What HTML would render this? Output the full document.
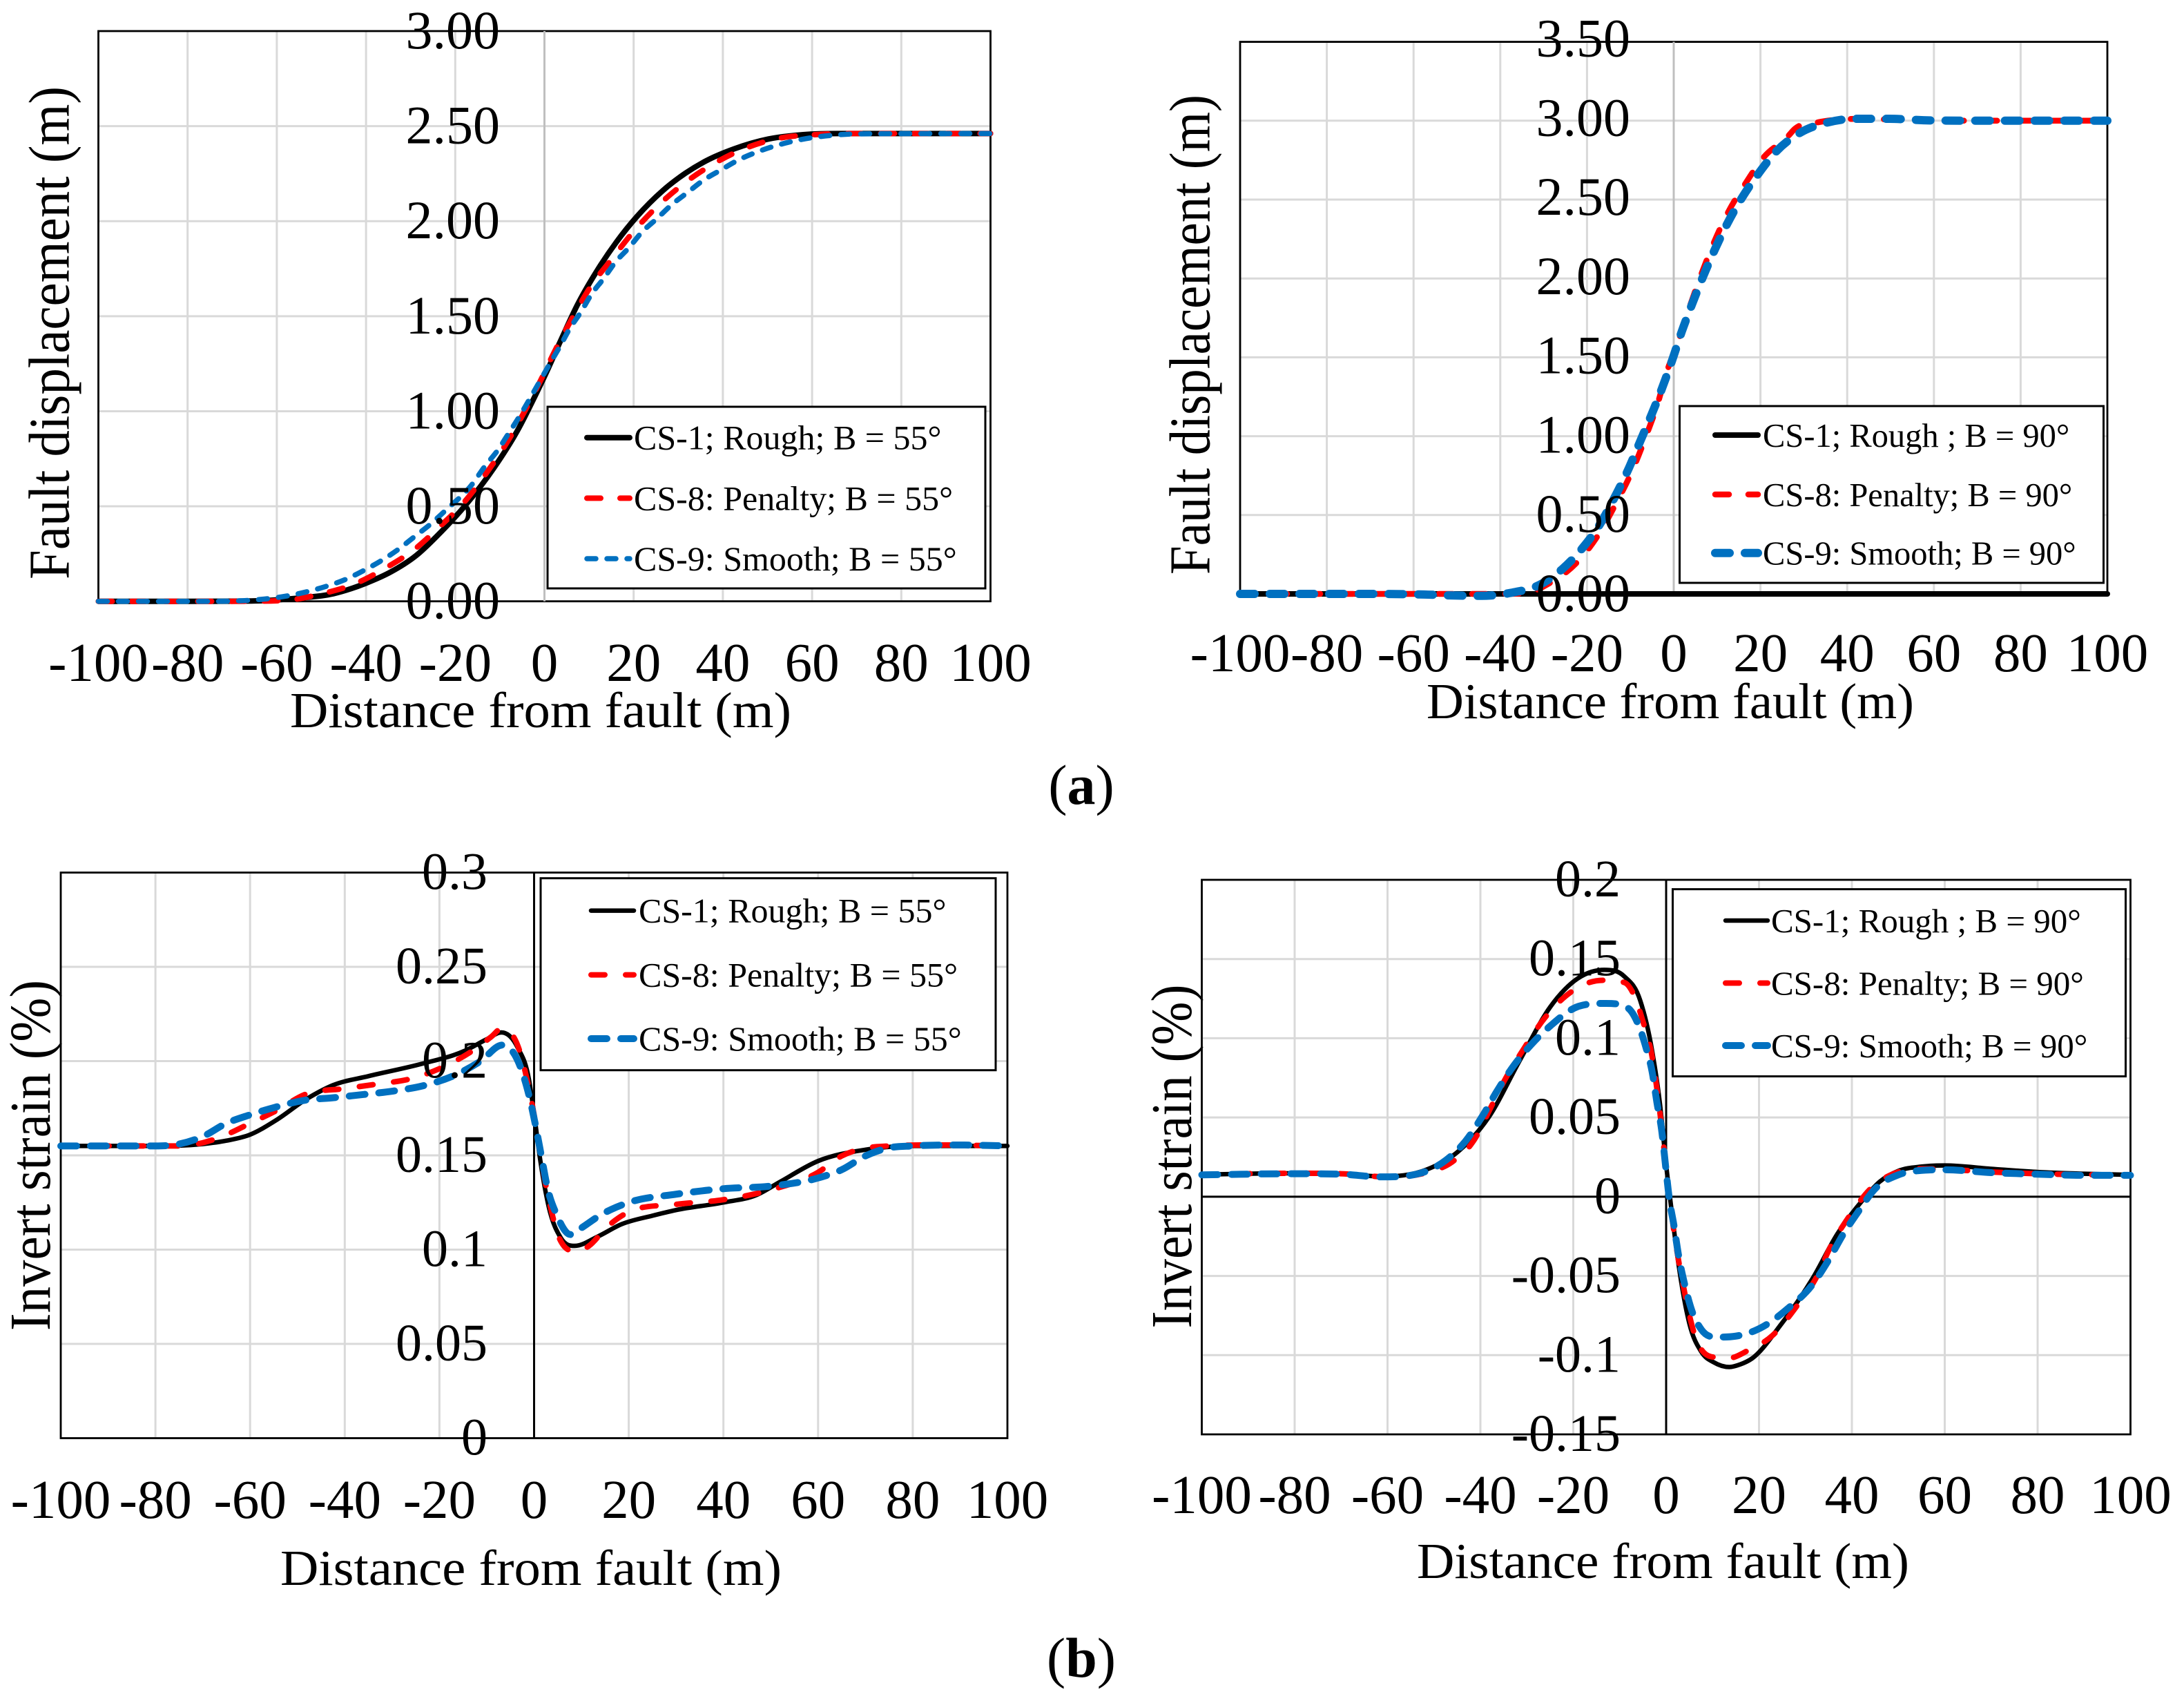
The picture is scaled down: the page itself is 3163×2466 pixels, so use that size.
<!DOCTYPE html>
<html lang="en">
<head>
<meta charset="utf-8">
<title>Fault displacement and invert strain charts</title>
<style>
html,body{margin:0;padding:0;background:#fff;}
svg{display:block;}
text{font-family:"Liberation Serif","Times New Roman",serif;fill:#000;}
</style>
</head>
<body>
<svg id="figure" xmlns="http://www.w3.org/2000/svg" width="3163" height="2466" viewBox="0 0 3163 2466">
<rect x="0" y="0" width="3163" height="2466" fill="#fff"/>
<text x="1566" y="1164" font-size="82" text-anchor="middle">(<tspan font-weight="bold">a</tspan>)</text>
<text x="1566" y="2428" font-size="82" text-anchor="middle">(<tspan font-weight="bold">b</tspan>)</text>
</svg>
<script>
// ---- shared tick labels ----
const distanceTicks = ["-100","-80","-60","-40","-20","0","20","40","60","80","100"];
const aLeftYTicks = ["0.00","0.50","1.00","1.50","2.00","2.50","3.00"];
const aRightYTicks = ["0.00","0.50","1.00","1.50","2.00","2.50","3.00","3.50"];
const bLeftYTicks = ["0","0.05","0.1","0.15","0.2","0.25","0.3"];
const bRightYTicks = ["-0.15","-0.1","-0.05","0","0.05","0.1","0.15","0.2"];

// ---- (a) left: fault displacement, B = 55 ----
const aLeftRoughX = [-100,-80,-65,-55.6,-47.3,-40.1,-34.4,-28.8,-23.1,-17.9,-11.2,-6,-1.9,0.15,3.8,7.4,12,16.2,20.8,26.5,31.6,36.3,42.5,50.2,58,65.7,80,100];
const aLeftRoughY = [0,0,0.002,0.016,0.04,0.0944,0.155,0.24,0.367,0.5,0.706,0.9,1.09,1.19,1.38,1.56,1.747,1.892,2.026,2.16,2.252,2.318,2.38,2.432,2.455,2.461,2.461,2.461];
const aLeftPenaltyX = [-100,-70,-58,-50.4,-42.7,-35.7,-29,-23.3,-17.9,-13,-8.6,-4.2,-0.9,2.2,6.3,10.2,15.1,20,25.4,31.4,38.1,45,52.8,60.6,70,100];
const aLeftPenaltyY = [0,0,0.005,0.037,0.09,0.174,0.276,0.397,0.524,0.675,0.828,1.01,1.16,1.311,1.493,1.65,1.801,1.946,2.08,2.2,2.304,2.383,2.437,2.455,2.461,2.461];
const aLeftSmoothX = [-100,-75,-62.3,-57.7,-53.3,-48.9,-44.8,-40.6,-36.5,-32.6,-29.3,-25.4,-22,-16.4,-13.3,-10.4,-8.1,-5.6,-3.2,-1.1,1.2,3.5,5.6,8.2,10.5,13.3,15.9,19,21.8,25.2,28.5,32.2,35.5,39.6,43.5,47.7,52,56.4,60.8,65.2,69.8,100];
const aLeftSmoothY = [0,0,0.013,0.028,0.05,0.079,0.113,0.161,0.215,0.276,0.337,0.409,0.482,0.61,0.712,0.797,0.881,0.973,1.069,1.155,1.25,1.342,1.432,1.523,1.614,1.699,1.784,1.862,1.941,2.013,2.086,2.153,2.213,2.27,2.322,2.364,2.398,2.424,2.442,2.453,2.459,2.461];

// ---- (a) right: fault displacement, B = 90 ----
const aRightRoughX = [-100,-50,0,50,100];
const aRightRoughY = [0,0,0,0,0];
const aRightPenaltyX = [-100,-60,-40,-33.6,-29.3,-21.9,-17.6,-13.4,-9.7,-5.9,-3.8,-1.7,0.7,3,6,8.9,12.6,16.1,20.9,26.2,28,33.3,37,43,60,100];
const aRightPenaltyY = [0,0,0,0.007,0.058,0.212,0.365,0.569,0.773,1.036,1.197,1.4,1.576,1.766,2,2.204,2.423,2.583,2.773,2.897,2.95,2.99,3.005,3.012,3,3];
const aRightSmoothX = [-100,-71,-57.5,-50.8,-44.2,-37.5,-30.9,-25.6,-20.8,-17.1,-13.9,-10.5,-7.8,-5.1,-2.76,-0.37,1.86,4.14,6.69,9.45,12.4,15.7,19.5,23.8,29.3,35.5,41.8,49.7,59,75,100];
const aRightSmoothY = [0,0,-0.004,-0.01,-0.012,0.007,0.058,0.16,0.299,0.438,0.598,0.788,0.963,1.138,1.299,1.481,1.664,1.831,2.007,2.182,2.35,2.51,2.663,2.81,2.926,2.989,3.012,3.012,3.002,3,3];

// ---- (b) left: invert strain, B = 55 ----
const bLeftRoughX = [-100,-80,-70,-65,-60,-54.6,-48,-42.5,-35,-23.5,-14.7,-10,-6.9,-3.5,-1.07,0,1.3,3.07,5.7,8.6,13.5,18.4,25,30,40,47,52,60,70,80,100];
const bLeftRoughY = [0.155,0.155,0.156,0.1578,0.161,0.1685,0.18,0.1872,0.192,0.1987,0.2054,0.2116,0.2152,0.2073,0.19,0.172,0.1475,0.123,0.106,0.102,0.107,0.1134,0.118,0.121,0.125,0.129,0.136,0.147,0.153,0.155,0.155];
const bLeftPenaltyX = [-100,-80,-75,-70,-65,-60,-55,-48,-40.5,-33.2,-25.8,-18.6,-13.3,-9,-6.9,-3,-1.3,0.15,1.85,3.3,5.3,9.15,11.5,15.5,20,30,40,50,60,65,70,75,85,100];
const bLeftPenaltyY = [0.155,0.155,0.155,0.1567,0.161,0.167,0.173,0.1827,0.1853,0.1878,0.1908,0.1976,0.205,0.213,0.2172,0.205,0.188,0.1695,0.1427,0.1245,0.1062,0.099,0.1018,0.1122,0.12,0.124,0.1265,0.1317,0.141,0.1497,0.1538,0.155,0.1555,0.155];
const bLeftSmoothX = [-100,-80,-75,-70,-65,-60,-55,-48.3,-42.7,-36,-29.8,-23,-16.6,-11.3,-6.7,-3,-1.07,0.4,1.6,2.8,4.8,7.7,10.1,14,20,30,40,50,60,65,70,75,80,90,100];
const bLeftSmoothY = [0.155,0.155,0.156,0.16,0.167,0.1715,0.1753,0.1793,0.1805,0.1823,0.1841,0.1872,0.1927,0.2,0.2085,0.1976,0.1817,0.1647,0.1488,0.133,0.1183,0.108,0.1117,0.1183,0.125,0.1294,0.1323,0.1337,0.138,0.1424,0.1497,0.154,0.155,0.1555,0.155];

// ---- (b) right: invert strain, B = 90 ----
const bRightRoughX = [-100,-80,-70,-61.4,-51.5,-44.8,-38.2,-31.5,-24.9,-18.9,-13.3,-9,-5.6,-3,-1.3,0,1,2.65,5,7.6,10.3,13.6,16,18.3,24.9,31.5,36.9,42.2,46,50,55,60,70,80,90,100];
const bRightRoughY = [0.014,0.0148,0.0145,0.0128,0.0172,0.0285,0.0502,0.0861,0.12,0.138,0.1432,0.139,0.124,0.0918,0.0578,0.02,-0.0045,-0.0423,-0.08,-0.098,-0.1046,-0.1075,-0.1058,-0.1025,-0.08,-0.0518,-0.0234,-0.0026,0.0095,0.0163,0.019,0.0197,0.0176,0.0156,0.0145,0.0138];
const bRightPenaltyX = [-100,-80,-70,-60,-51.5,-46.1,-41.5,-37.5,-34.9,-31,-26.2,-21.6,-13.6,-9,-7,-5,-3,-1.3,0,1.66,3.65,6,9.6,13.6,17.6,22.9,28.2,32.2,35.5,39.5,44,50,55,60,70,80,100];
const bRightPenaltyY = [0.014,0.0148,0.0145,0.0125,0.0153,0.0219,0.0351,0.0578,0.0729,0.0918,0.1126,0.1267,0.1366,0.1352,0.1277,0.1107,0.088,0.0521,0.018,-0.0215,-0.0555,-0.0858,-0.1009,-0.1018,-0.0971,-0.0876,-0.0688,-0.0518,-0.031,-0.0121,0.005,0.0156,0.0176,0.0173,0.0156,0.0145,0.0135];
const bRightSmoothX = [-100,-80,-70,-61.4,-53.5,-47.5,-43.2,-39.5,-36.5,-32.9,-28.9,-24.9,-18.9,-13,-8.3,-6.3,-4.3,-3,-2,-1,0,0.66,1.66,2.65,4,5.6,7.6,11,15,20.3,26.2,31.5,34.9,38.2,41.2,45,50,55,60,70,80,90,100];
const bRightSmoothY = [0.0138,0.0145,0.0142,0.0125,0.0144,0.0229,0.0351,0.0512,0.0663,0.0824,0.0965,0.1079,0.1201,0.122,0.1192,0.1107,0.0937,0.0786,0.0597,0.0427,0.0162,-0.0008,-0.0178,-0.0366,-0.0555,-0.0725,-0.0839,-0.0886,-0.088,-0.0829,-0.0706,-0.0555,-0.0404,-0.0234,-0.0102,0.005,0.0138,0.0166,0.017,0.0152,0.0142,0.0135,0.0135];

const SVGNS = "http://www.w3.org/2000/svg";
const figure = document.getElementById("figure");

function make(tag, parent, name, attrs) {
  const el = document.createElementNS(SVGNS, tag);
  
  
  for (const k in attrs) el.setAttribute(k, attrs[k]);
  parent.appendChild(el);
  return el;
}

function linearScale(d0, d1, r0, r1) {
  return function (v) { return r0 + (v - d0) * (r1 - r0) / (d1 - d0); };
}

// smooth cubic interpolation through the data points, limited so it cannot overshoot
function curvePath(xs, ys) {
  const n = xs.length;
  const dx = [], m = [];
  for (let i = 0; i < n - 1; i++) {
    dx.push(xs[i + 1] - xs[i]);
    m.push((ys[i + 1] - ys[i]) / dx[i]);
  }
  const t = [m[0]];
  for (let i = 1; i < n - 1; i++) {
    if (m[i - 1] * m[i] <= 0) { t.push(0); continue; }
    const p = (m[i - 1] * dx[i] + m[i] * dx[i - 1]) / (dx[i] + dx[i - 1]);
    const s = Math.min(3 * Math.abs(m[i - 1]), 3 * Math.abs(m[i]), Math.abs(p));
    t.push(Math.sign(p) * s);
  }
  t.push(m[n - 2]);
  let d = "M" + xs[0].toFixed(2) + " " + ys[0].toFixed(2);
  for (let i = 0; i < n - 1; i++) {
    const h = dx[i] / 3;
    d += "C" + (xs[i] + h).toFixed(2) + " " + (ys[i] + h * t[i]).toFixed(2) + " " +
         (xs[i + 1] - h).toFixed(2) + " " + (ys[i + 1] - h * t[i + 1]).toFixed(2) + " " +
         xs[i + 1].toFixed(2) + " " + ys[i + 1].toFixed(2);
  }
  return d;
}

function drawChart(c) {
  const g = make("g", figure, c.id, {});
  const x = linearScale(-100, 100, c.left, c.right);
  const y = linearScale(c.yMin, c.yMax, c.bottom, c.top);

  // gridlines
  const grid = make("g", g, c.id + "-gridlines", {stroke: "#d9d9d9", "stroke-width": 3});
  distanceTicks.forEach(function (t) {
    const px = x(parseFloat(t));
    make("line", grid, "vertical-gridline", {x1: px, x2: px, y1: c.top, y2: c.bottom});
  });
  c.yTicks.forEach(function (t) {
    const py = y(parseFloat(t));
    make("line", grid, "horizontal-gridline", {x1: c.left, x2: c.right, y1: py, y2: py});
  });

  // frame and zero axes
  make("rect", g, c.id + "-plot-frame", {x: c.left, y: c.top, width: c.right - c.left, height: c.bottom - c.top, fill: "none", stroke: "#000", "stroke-width": 2.8});
  make("line", g, c.id + "-zero-distance-axis", {x1: x(0), x2: x(0), y1: c.top, y2: c.bottom, stroke: c.zeroAxisColor, "stroke-width": 3});
  if (c.yMin < 0) {
    make("line", g, c.id + "-zero-strain-axis", {x1: c.left, x2: c.right, y1: y(0), y2: y(0), stroke: "#000", "stroke-width": 3});
  }

  // series
  c.series.forEach(function (s) {
    const px = s.xs.map(x);
    const py = s.ys.map(y);
    const attrs = {d: curvePath(px, py), fill: "none", stroke: s.color, "stroke-width": s.width, "stroke-linecap": "round", "stroke-linejoin": "round"};
    if (s.dash) attrs["stroke-dasharray"] = s.dash;
    make("path", g, c.id + "-series-" + s.key, attrs);
  });

  // tick labels
  const xLabels = make("g", g, c.id + "-x-tick-labels", {"font-size": c.xTickSize, "text-anchor": "middle"});
  distanceTicks.forEach(function (t) {
    const el = make("text", xLabels, "x-tick-label", {x: x(parseFloat(t)), y: c.xTickBaseline});
    el.textContent = t;
  });
  const yLabels = make("g", g, c.id + "-y-tick-labels", {"font-size": c.yTickSize, "text-anchor": "end"});
  c.yTicks.forEach(function (t, i) {
    const drift = c.yTickDrift * i / (c.yTicks.length - 1);
    const el = make("text", yLabels, "y-tick-label", {x: c.yTickRight, y: y(parseFloat(t)) + c.yTickShift - drift});
    el.textContent = t;
  });

  // axis titles
  const xTitle = make("text", g, c.id + "-x-axis-title", {x: c.xTitleStart, y: c.xTitleBaseline, "font-size": 73, textLength: c.xTitleLength, lengthAdjust: "spacingAndGlyphs"});
  xTitle.textContent = "Distance from fault (m)";
  const yTitle = make("text", g, c.id + "-y-axis-title", {x: 0, y: 0, "font-size": 84, textLength: c.yTitleLength, lengthAdjust: "spacingAndGlyphs", transform: "translate(" + c.yTitleX + " " + c.yTitleBottom + ") rotate(-90)"});
  yTitle.textContent = c.yTitle;

  // legend
  const lg = make("g", g, c.id + "-legend", {});
  make("rect", lg, "legend-box", {x: c.legend.x, y: c.legend.y, width: c.legend.w, height: c.legend.h, fill: "#fff", stroke: "#000", "stroke-width": 3});
  c.series.forEach(function (s, i) {
    const row = c.legend.rows[i];
    const entry = make("g", lg, "legend-entry-" + s.key, {});
    const attrs = {x1: c.legend.lineStart, x2: c.legend.lineEnd, y1: row, y2: row, stroke: s.color, "stroke-width": s.width, "stroke-linecap": "round"};
    if (s.dash) attrs["stroke-dasharray"] = s.dash;
    make("line", entry, "legend-swatch-" + s.key, attrs);
    const label = make("text", entry, "legend-label-" + s.key, {x: c.legend.textX, y: row + 17, "font-size": c.legend.fontSize});
    label.textContent = s.label;
  });
}

drawChart({
  id: "displacement-chart-b55",
  left: 142.5, right: 1434.5, top: 45, bottom: 870.7, yMin: 0, yMax: 3,
  yTicks: aLeftYTicks, zeroAxisColor: "#bfbfbf",
  xTickSize: 79, xTickBaseline: 986, yTickSize: 78, yTickRight: 724, yTickShift: 25, yTickDrift: 0,
  xTitleStart: 420, xTitleBaseline: 1053, xTitleLength: 726,
  yTitle: "Fault displacement (m)", yTitleX: 99.5, yTitleBottom: 839, yTitleLength: 714,
  legend: {x: 793, y: 589, w: 634, h: 263, fontSize: 50, rows: [633.7, 721.4, 809], lineStart: 850, lineEnd: 912, textX: 918},
  series: [
    {key: "cs-1-rough", label: "CS-1; Rough; B = 55°", xs: aLeftRoughX, ys: aLeftRoughY, color: "#000", width: 8},
    {key: "cs-8-penalty", label: "CS-8: Penalty; B = 55°", xs: aLeftPenaltyX, ys: aLeftPenaltyY, color: "#ff0000", width: 8, dash: "20 28"},
    {key: "cs-9-smooth", label: "CS-9: Smooth; B = 55°", xs: aLeftSmoothX, ys: aLeftSmoothY, color: "#0070c0", width: 7.5, dash: "13 16"}
  ]
});

drawChart({
  id: "displacement-chart-b90",
  left: 1796, right: 3052, top: 60.6, bottom: 860, yMin: 0, yMax: 3.5,
  yTicks: aRightYTicks, zeroAxisColor: "#bfbfbf",
  xTickSize: 79, xTickBaseline: 972, yTickSize: 78, yTickRight: 2361, yTickShift: 25, yTickDrift: 4,
  xTitleStart: 2066, xTitleBaseline: 1040, xTitleLength: 706,
  yTitle: "Fault displacement (m)", yTitleX: 1751.5, yTitleBottom: 832, yTitleLength: 695,
  legend: {x: 2432.5, y: 588, w: 614, h: 256, fontSize: 48.5, rows: [630, 716, 800.7], lineStart: 2484, lineEnd: 2546, textX: 2553},
  series: [
    {key: "cs-1-rough", label: "CS-1; Rough ; B = 90°", xs: aRightRoughX, ys: aRightRoughY, color: "#000", width: 8},
    {key: "cs-8-penalty", label: "CS-8: Penalty; B = 90°", xs: aRightPenaltyX, ys: aRightPenaltyY, color: "#ff0000", width: 8.5, dash: "20 28"},
    {key: "cs-9-smooth", label: "CS-9: Smooth; B = 90°", xs: aRightSmoothX, ys: aRightSmoothY, color: "#0070c0", width: 12, dash: "21 22"}
  ]
});

drawChart({
  id: "strain-chart-b55",
  left: 88, right: 1459, top: 1263.5, bottom: 2082.5, yMin: 0, yMax: 0.3,
  yTicks: bLeftYTicks, zeroAxisColor: "#000",
  xTickSize: 79, xTickBaseline: 2198, yTickSize: 76, yTickRight: 706, yTickShift: 24, yTickDrift: 0,
  xTitleStart: 406, xTitleBaseline: 2295, xTitleLength: 726,
  yTitle: "Invert strain (%)", yTitleX: 72, yTitleBottom: 1927, yTitleLength: 508,
  legend: {x: 783, y: 1271.7, w: 659, h: 278, fontSize: 50, rows: [1318.6, 1411.6, 1504], lineStart: 856, lineEnd: 918, textX: 925},
  series: [
    {key: "cs-1-rough", label: "CS-1; Rough; B = 55°", xs: bLeftRoughX, ys: bLeftRoughY, color: "#000", width: 6.5},
    {key: "cs-8-penalty", label: "CS-8: Penalty; B = 55°", xs: bLeftPenaltyX, ys: bLeftPenaltyY, color: "#ff0000", width: 8, dash: "20 30"},
    {key: "cs-9-smooth", label: "CS-9: Smooth; B = 55°", xs: bLeftSmoothX, ys: bLeftSmoothY, color: "#0070c0", width: 10, dash: "23 20"}
  ]
});

drawChart({
  id: "strain-chart-b90",
  left: 1740.5, right: 3085.5, top: 1274, bottom: 2077, yMin: -0.15, yMax: 0.2,
  yTicks: bRightYTicks, zeroAxisColor: "#000",
  xTickSize: 79, xTickBaseline: 2191, yTickSize: 76, yTickRight: 2347, yTickShift: 24, yTickDrift: 0,
  xTitleStart: 2052, xTitleBaseline: 2285, xTitleLength: 713,
  yTitle: "Invert strain (%)", yTitleX: 1725, yTitleBottom: 1923.5, yTitleLength: 498,
  legend: {x: 2422.5, y: 1287.6, w: 656, h: 271, fontSize: 49, rows: [1333, 1423.5, 1514], lineStart: 2499, lineEnd: 2560, textX: 2565},
  series: [
    {key: "cs-1-rough", label: "CS-1; Rough ; B = 90°", xs: bRightRoughX, ys: bRightRoughY, color: "#000", width: 6.5},
    {key: "cs-8-penalty", label: "CS-8: Penalty; B = 90°", xs: bRightPenaltyX, ys: bRightPenaltyY, color: "#ff0000", width: 8, dash: "20 30"},
    {key: "cs-9-smooth", label: "CS-9: Smooth; B = 90°", xs: bRightSmoothX, ys: bRightSmoothY, color: "#0070c0", width: 10, dash: "23 20"}
  ]
});
</script>
</body>
</html>
